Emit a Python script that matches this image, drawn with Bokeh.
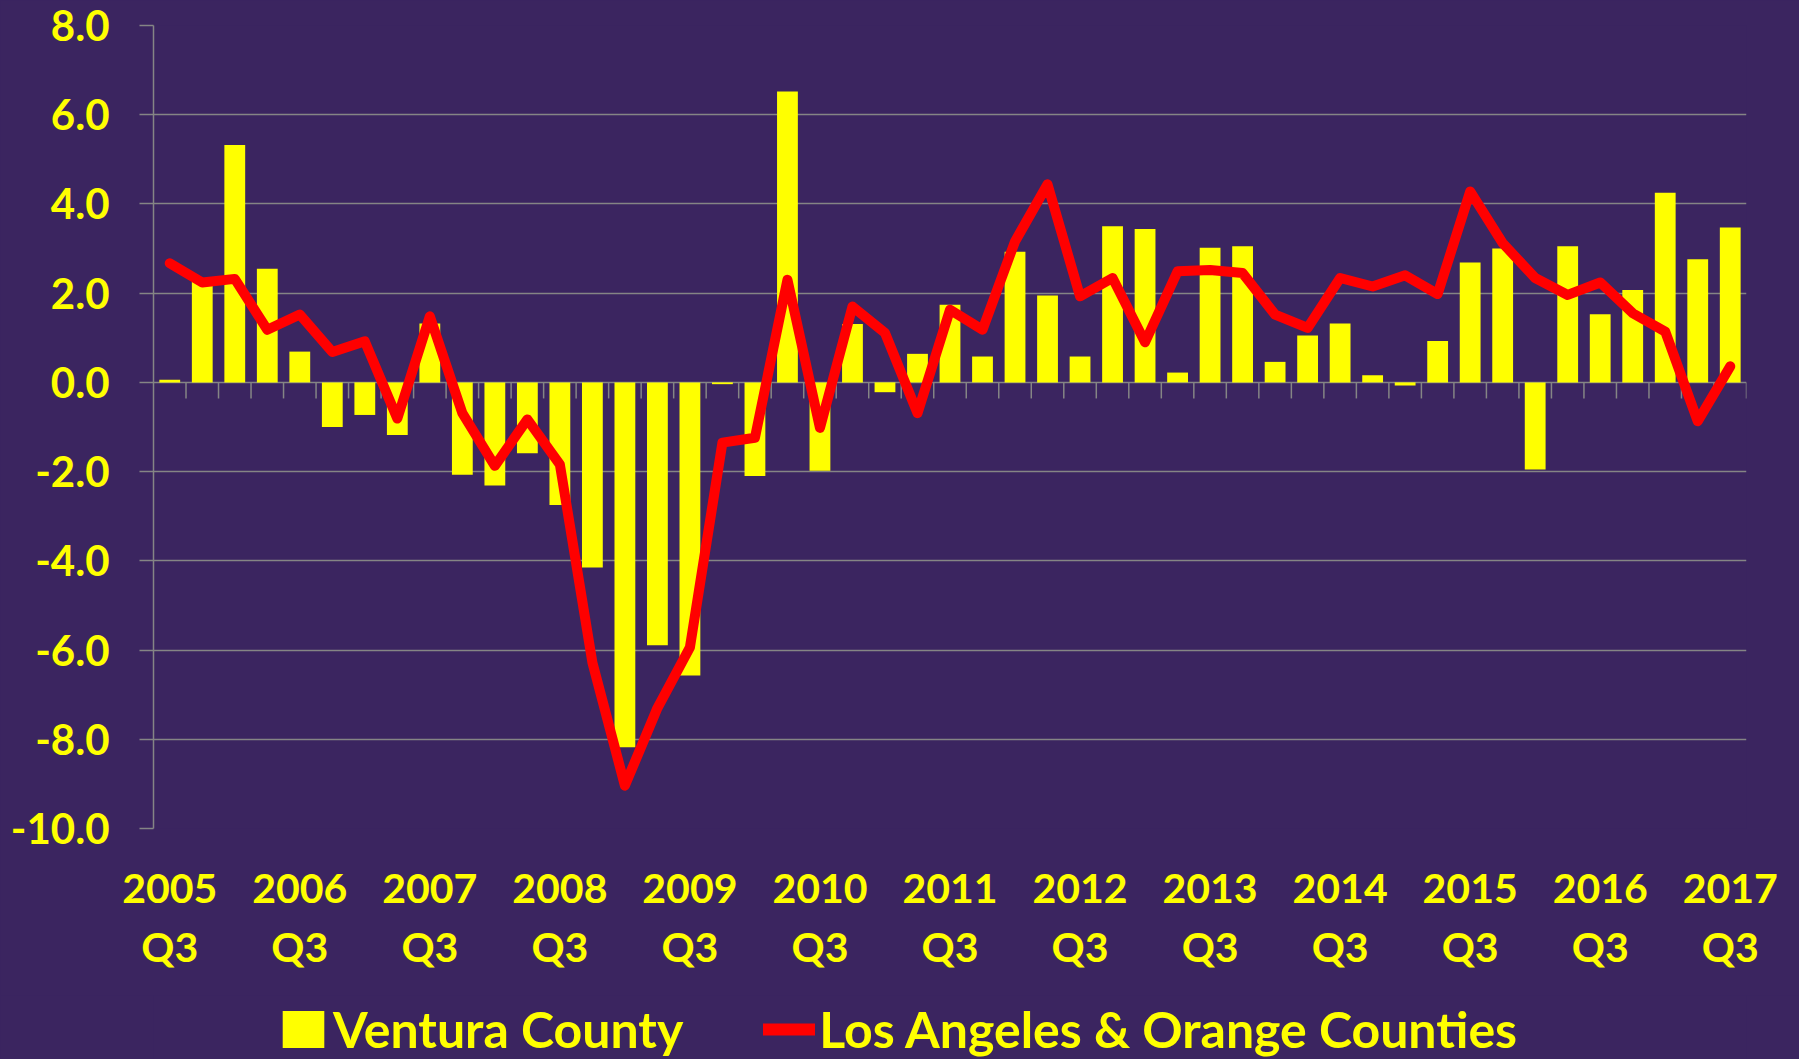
import numpy as np
from bokeh.plotting import figure
from bokeh.layouts import column
from bokeh.models import (Range1d, FixedTicker, PrintfTickFormatter, Legend, LegendItem,
                          ColumnDataSource)
from bokeh.embed import file_html
from bokeh.resources import INLINE

# ---- data (quarterly, 2005 Q3 .. 2017 Q3) ----
years = ["2005", "2006", "2007", "2008", "2009", "2010", "2011", "2012",
         "2013", "2014", "2015", "2016", "2017"]
ventura = [0.06, 2.26, 5.32, 2.55, 0.69, -1.00, -0.73, -1.18, 1.32, -2.07,
           -2.31, -1.59, -2.75, -4.15, -8.18, -5.89, -6.57, -0.04, -2.10, 6.52,
           -1.98, 1.31, -0.22, 0.64, 1.74, 0.58, 2.93, 1.95, 0.58, 3.50,
           3.44, 0.22, 3.02, 3.05, 0.46, 1.05, 1.32, 0.16, -0.07, 0.93,
           2.69, 3.00, -1.95, 3.05, 1.53, 2.07, 4.25, 2.76, 3.47]
la_oc = [2.67, 2.24, 2.32, 1.18, 1.52, 0.68, 0.92, -0.81, 1.48, -0.69,
         -1.87, -0.83, -1.84, -6.28, -9.04, -7.30, -5.94, -1.35, -1.24, 2.30,
         -1.02, 1.70, 1.11, -0.69, 1.63, 1.18, 3.16, 4.44, 1.93, 2.34,
         0.90, 2.49, 2.52, 2.45, 1.52, 1.22, 2.34, 2.15, 2.40, 1.98,
         4.28, 3.12, 2.34, 1.96, 2.24, 1.55, 1.14, -0.87, 0.36]
y_ticks = [-10, -8, -6, -4, -2, 0, 2, 4, 6, 8]
series_names = ["Ventura County", "Los Angeles & Orange Counties"]

n = len(ventura)
x = np.arange(n) + 0.5
src = ColumnDataSource(dict(x=x, v=ventura, la=la_oc))

BG = "#3B2560"
YEL = "#FFFF00"
RED = "#FF0000"
GRID = "#858585"
FONT = "Lato"

p = figure(width=1799, height=995, output_backend="svg", toolbar_location=None,
           x_range=Range1d(0, n), y_range=Range1d(-10, 8),
           min_border_left=153, min_border_right=53, min_border_top=25,
           min_border_bottom=167)
p.outline_line_color = None
p.background_fill_color = BG
p.border_fill_color = BG

# grid
p.xgrid.grid_line_color = None
p.ygrid.ticker = FixedTicker(ticks=y_ticks)
p.ygrid.grid_line_color = GRID
p.ygrid.grid_line_width = 1.5

# tick marks on the zero line at category boundaries
bounds = np.arange(1, n + 1)
p.segment(x0=bounds, y0=np.zeros(n), x1=bounds, y1=np.full(n, -0.36),
          line_color=GRID, line_width=1.5)

p.vbar(x='x', top='v', bottom=0, width=0.64, source=src,
       fill_color=YEL, line_color=None)
p.line('x', 'la', source=src, line_color=RED, line_width=10,
       line_join="round", line_cap="round")

# y axis
ya = p.yaxis[0]
ya.ticker = FixedTicker(ticks=y_ticks)
ya.formatter = PrintfTickFormatter(format="%.1f")
ya.axis_line_color = GRID
ya.axis_line_width = 1.5
ya.major_tick_line_color = GRID
ya.major_tick_line_width = 1.5
ya.major_tick_out = 14
ya.major_tick_in = 0
ya.minor_tick_line_color = None
ya.major_label_standoff = 30
ya.major_label_text_font = FONT
ya.major_label_text_font_style = "bold"
ya.major_label_text_font_size = "42px"
ya.major_label_text_color = YEL

# x axis (labels every 4th quarter)
xa = p.xaxis[0]
label_pos = [float(x[i]) for i in range(0, n, 4)]
xa.ticker = FixedTicker(ticks=label_pos)
xa.major_label_overrides = {pos: f"{yr}\nQ3" for pos, yr in zip(label_pos, years)}
xa.axis_line_color = None
xa.major_tick_line_color = None
xa.minor_tick_line_color = None
xa.major_label_standoff = 28
xa.major_label_text_font = FONT
xa.major_label_text_font_style = "bold"
xa.major_label_text_font_size = "41px"
xa.major_label_text_color = YEL
xa.major_label_text_line_height = 1.22

# ---- legend strip (separate small figure below the chart) ----
lf = figure(width=1799, height=64, output_backend="svg", toolbar_location=None,
            x_range=Range1d(0, 1), y_range=Range1d(0, 1),
            x_axis_location=None, y_axis_location=None, min_border=0)
lf.outline_line_color = None
lf.background_fill_color = BG
lf.border_fill_color = BG
lf.grid.grid_line_color = None
# legend-only renderers (a single NaN point: nothing drawn in the strip itself)
r_bar = lf.vbar(x=[np.nan], top=[np.nan], width=0.5, fill_color=YEL, line_color=None)
r_line = lf.line(x=[np.nan, np.nan], y=[np.nan, np.nan], line_color=RED,
                 line_width=12, line_cap="round")
legend = Legend(items=[LegendItem(label=series_names[0], renderers=[r_bar]),
                       LegendItem(label=series_names[1], renderers=[r_line])],
                orientation="horizontal", location=(124, 0),
                label_text_font=FONT, label_text_font_style="bold",
                label_text_font_size="50px", label_text_color=YEL,
                glyph_width=52, glyph_height=46, spacing=80, label_standoff=4,
                padding=0, margin=0, border_line_color=None,
                background_fill_alpha=0)
lf.add_layout(legend, "center")

layout = column(p, lf, spacing=0)

html = file_html(layout, INLINE, title="chart")
html = html.replace("</head>",
                    "<style>html,body{margin:0;overflow:hidden;background-color:%s;}</style></head>" % BG, 1)
open("out.html", "w").write(html)
